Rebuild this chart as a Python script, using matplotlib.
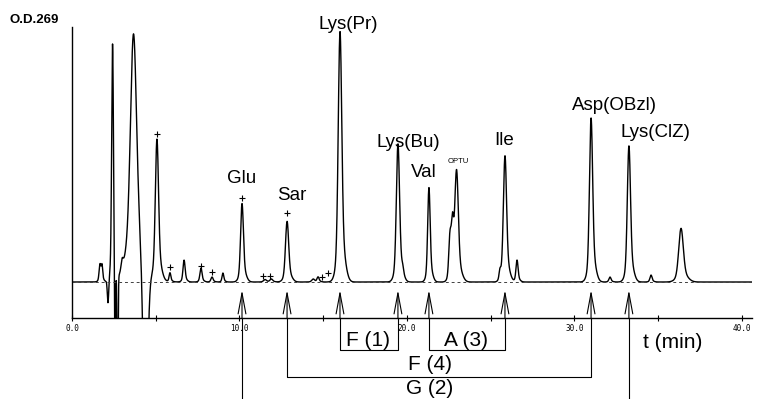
import numpy as np
import matplotlib.pyplot as plt

# retention times (min), heights (O.D., baseline = 0) and widths of the peaks
peak_time  = [1.67, 1.79, 2.42, 2.99, 3.60, 3.67, 5.07, 5.85, 6.69, 7.70, 8.36, 9.01,
              10.15, 11.52, 11.90, 12.84, 14.40, 14.69, 16.00, 19.46, 19.75, 21.31,
              22.57, 22.72, 22.96, 25.55, 25.85, 26.57, 30.99, 32.12, 33.25, 34.57, 36.36]
peak_h     = [0.070, 0.060, 0.952, 0.040, 0.100, 0.900, 0.568, 0.036, 0.088, 0.056, 0.020, 0.036,
              0.316, 0.010, 0.012, 0.244, 0.012, 0.020, 1.008, 0.556, 0.020, 0.380,
              0.180, 0.190, 0.440, 0.036, 0.508, 0.088, 0.660, 0.020, 0.548, 0.028, 0.216]
peak_sd    = [0.05, 0.04, 0.05, 0.06, 0.40, 0.17, 0.09, 0.05, 0.06, 0.06, 0.06, 0.05,
              0.08, 0.08, 0.08, 0.09, 0.08, 0.06, 0.10, 0.09, 0.05, 0.07,
              0.07, 0.06, 0.10, 0.05, 0.09, 0.06, 0.09, 0.06, 0.09, 0.06, 0.13]

# negative excursions at the start of the run
dip_time  = [2.15, 2.57, 2.72, 4.38]
dip_depth = [-0.09, -0.50, -0.50, -0.70]
dip_sd    = [0.04, 0.03, 0.03, 0.13]

# identified peaks, arrow positions and label anchors
names      = ['Glu', 'Sar', 'Lys(Pr)', 'Lys(Bu)', 'Val', 'Ile', 'Asp(OBzl)', 'Lys(ClZ)']
name_time  = [10.15, 12.84, 16.00, 19.46, 21.31, 25.85, 30.99, 33.25]
label_x    = [10.15, 13.10, 16.48, 20.06, 20.99, 25.80, 32.36, 34.84]
label_y    = [0.396, 0.328, 1.012, 0.540, 0.420, 0.548, 0.688, 0.580]

# small '+' marks over minor peaks
plus_t = [5.07, 5.85, 7.70, 8.36, 10.15, 11.40, 11.80, 12.84, 14.95, 15.30]
plus_y = [0.592, 0.060, 0.064, 0.040, 0.336, 0.024, 0.026, 0.276, 0.020, 0.036]

# fraction groups: (label, start peak, end peak, level, label x, label y)
groups = [('F (1)', 'Lys(Pr)', 'Lys(Bu)', -0.272, 17.67, -0.256),
          ('A (3)', 'Val', 'Ile', -0.272, 23.52, -0.256),
          ('F (4)', 'Sar', 'Asp(OBzl)', -0.380, 21.37, -0.352),
          ('G (2)', 'Glu', 'Lys(ClZ)', -0.600, 21.37, -0.448)]

t = np.linspace(0, 40.6, 8000)
od = np.zeros_like(t)
for c, h, s in zip(peak_time, peak_h, peak_sd):
    # sharp apex plus a slightly wider, tailing foot
    od += 0.82 * h * np.exp(-0.5 * ((t - c) / s) ** 2)
    od += 0.18 * h * np.exp(-0.5 * ((t - c - 0.6 * s) / (2.2 * s)) ** 2)
for c, h, s in zip(dip_time, dip_depth, dip_sd):
    od += h * np.exp(-0.5 * ((t - c) / s) ** 2)

plt.rcParams['font.family'] = ['Liberation Sans', 'DejaVu Sans']
fig = plt.figure(figsize=(7.57, 3.99), dpi=100)
ax = fig.add_axes([72 / 757, 81 / 399, 680 / 757, 291 / 399])

ax.plot(t, od, color='black', lw=1.0)
ax.axhline(0, color='0.25', lw=0.7, ls=(0, (3, 3)))

ax.set_xlim(0, 40.6)
ax.set_ylim(-0.144, 1.02)
for side in ['top', 'right']:
    ax.spines[side].set_visible(False)
ax.spines['left'].set_linewidth(1.0)
ax.spines['bottom'].set_linewidth(1.0)
ax.set_yticks([])
ax.set_xticks([0, 5, 10, 15, 20, 25, 30, 35, 40])
ax.set_xticklabels(['0.0', '', '10.0', '', '20.0', '', '30.0', '', '40.0'],
                   family='DejaVu Sans Mono', fontsize=5.5)
ax.tick_params(axis='x', direction='inout', length=4, width=0.8, pad=2)

fig.text(10 / 757, 1 - 20 / 399, 'O.D.269', fontsize=9.5, fontweight='bold', va='center')

for n, lx, ly in zip(names, label_x, label_y):
    ax.text(lx, ly, n, fontsize=13.5, ha='center', va='baseline')
ax.text(23.07, 0.476, 'OPTU', fontsize=5.5, ha='center', va='baseline')

ax.plot(plus_t, plus_y, ls='none', marker='+', ms=4, mew=0.8, color='black')

pos = dict(zip(names, name_time))
ybase = -0.144
for n in names:
    ax.annotate('', xy=(pos[n], -0.032), xytext=(pos[n], ybase),
                arrowprops=dict(arrowstyle='->,head_length=1.5,head_width=0.28',
                                lw=0.8, color='black', shrinkA=0, shrinkB=0),
                annotation_clip=False)

for lab, a, b, lev, tx, ty in groups:
    ax.plot([pos[a], pos[a], pos[b], pos[b]], [ybase, lev, lev, ybase],
            color='black', lw=0.8, clip_on=False)
    ax.text(tx, ty, lab, fontsize=15, ha='center', va='baseline')

ax.text(35.88, -0.262, 't (min)', fontsize=15, ha='center', va='baseline')

fig.savefig('out.png', dpi=100)
